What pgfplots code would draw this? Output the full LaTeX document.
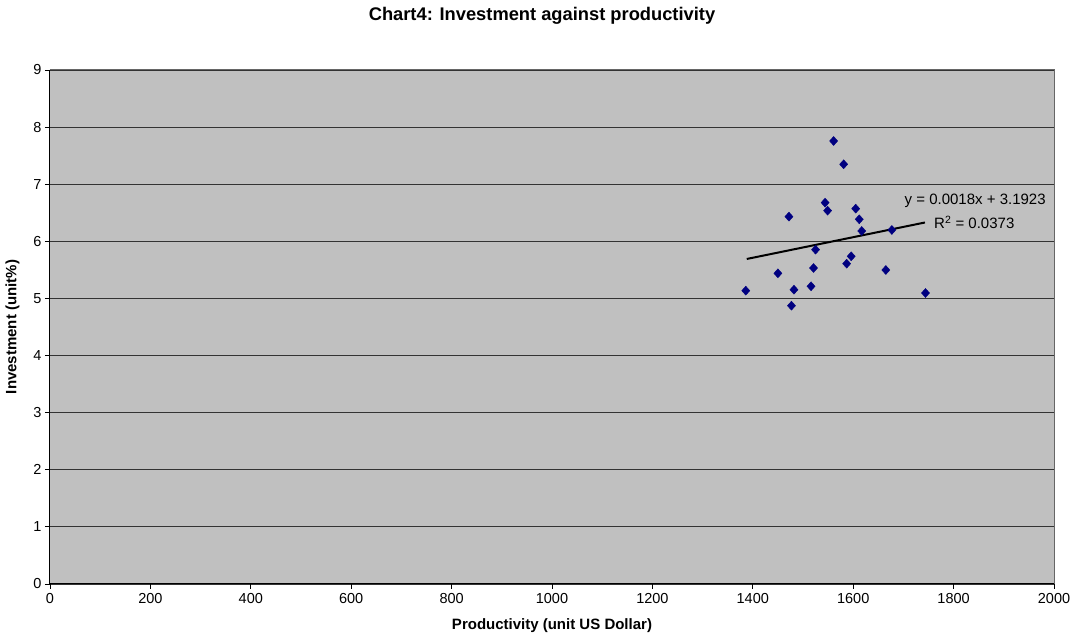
\documentclass[border=0pt]{standalone}
\usepackage{pgfplots}
\pgfplotsset{compat=1.18}
\usepackage{fontspec}
\setmainfont{Liberation Sans}
\definecolor{plotbg}{HTML}{C0C0C0}
\definecolor{navy}{HTML}{000080}

\begin{document}
\begin{tikzpicture}[x=1pt,y=1pt]
\path[use as bounding box] (0,0) rectangle (1074,644);
\node[font=\bfseries\fontsize{18.3}{21}\selectfont] at (542,628) {Chart4: Investment against productivity};
\begin{axis}[
  at={(50pt,60pt)}, anchor=south west,
  scale only axis,
  width=1004pt, height=514pt,
  xmin=0, xmax=2000, ymin=0, ymax=9,
  xtick={0,200,...,2000},
  ytick={0,1,...,9},
  tick align=outside,
  major tick length=5pt,
  tick style={black, line width=0.8pt},
  xtick pos=bottom, ytick pos=left,
  axis background/.style={fill=plotbg},
  axis line style={draw=none},
  ymajorgrids,
  grid style={black!80, line width=0.9pt},
  /pgf/number format/assume math mode=true,
  /pgf/number format/1000 sep={},
  every tick label/.append style={font=\fontsize{14.5}{16}\selectfont},
  xticklabel style={yshift=-1pt},
  xlabel={\bfseries Productivity (unit US Dollar)},
  ylabel={\bfseries Investment (unit\%)},
  label style={font=\fontsize{15}{17}\selectfont},
  xlabel style={at={(axis description cs:0.5,0)}, anchor=north, yshift=-31pt},
  ylabel style={at={(axis description cs:0,0.5)}, anchor=south, yshift=27pt},
  clip=false,
]
\draw[gray!80!black, line width=1pt] (axis cs:0,9) -- (axis cs:2000,9) -- (axis cs:2000,0);
\draw[black, line width=1pt] (axis cs:0,9) -- (axis cs:0,0) -- (axis cs:2000,0);

\addplot[only marks, mark=diamond*, mark size=4.5pt, color=navy, mark options={fill=navy, draw=navy, xscale=1.2}]
coordinates {
(1561,7.757) (1581,7.349) (1544,6.677) (1549,6.537) (1605,6.572)
(1472,6.432) (1612,6.386) (1617,6.181) (1677,6.199) (1525,5.854)
(1596,5.738) (1587,5.609) (1521,5.533) (1450,5.440) (1665,5.498)
(1386,5.136) (1482,5.153) (1516,5.213) (1744,5.095) (1477,4.873)
};

\addplot[black, line width=2pt] coordinates {(1388,5.691) (1743,6.330)};

\node[anchor=center, font=\fontsize{15}{17}\selectfont] at (axis cs:1843,6.71) {y = 0.0018x + 3.1923};
\node[anchor=west, font=\fontsize{15}{17}\selectfont, inner sep=0pt] at (axis cs:1761,6.33) {R\textsuperscript{2} = 0.0373};
\end{axis}
\end{tikzpicture}
\end{document}
